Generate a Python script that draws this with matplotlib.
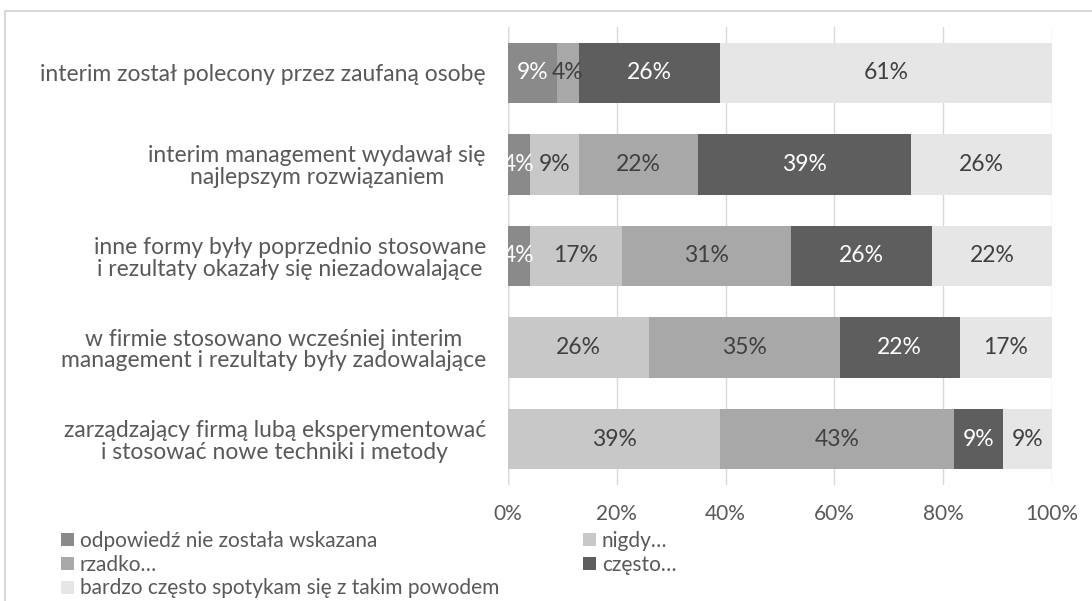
import matplotlib.pyplot as plt
from matplotlib.patches import Rectangle

plt.rcParams['font.family'] = ['Lato', 'DejaVu Sans']

# Categories (top to bottom) and series values in %
categories = [
    'interim został polecony przez zaufaną osobę',
    'interim management wydawał się\nnajlepszym rozwiązaniem',
    'inne formy były poprzednio stosowane\ni rezultaty okazały się niezadowalające',
    'w firmie stosowano wcześniej interim\nmanagement i rezultaty były zadowalające',
    'zarządzający firmą lubą eksperymentować\ni stosować nowe techniki i metody',
]
series_names = [
    'odpowiedź nie została wskazana',
    'nigdy…',
    'rzadko…',
    'często…',
    'bardzo często spotykam się z takim powodem',
]
odp = [9, 4, 4, 0, 0]
nigdy = [0, 9, 17, 26, 39]
rzadko = [4, 22, 31, 35, 43]
czesto = [26, 39, 26, 22, 9]
bardzo = [61, 26, 22, 17, 9]
values = [odp, nigdy, rzadko, czesto, bardzo]

colors = ['#8a8a8a', '#c8c8c8', '#a8a8a8', '#5e5e5e', '#e6e6e6']
label_colors = ['white', '#404040', '#404040', 'white', '#404040']
text_col = '#595959'

fig = plt.figure(figsize=(10.92, 6.01), dpi=100)
ax = fig.add_axes([508 / 1092, 1 - 485 / 601, 544 / 1092, 458 / 601])

# chart area frame (cropped on the right and bottom)
fig.patches.append(Rectangle((5 / 1092, -0.1), 1.2, 1.1 - 11 / 601,
                             transform=fig.transFigure, fill=False,
                             edgecolor='#d9d9d9', lw=1.5))

ypos = list(range(len(categories)))
left = [0] * len(categories)
handles = []
for vals, name, c, lc in zip(values, series_names, colors, label_colors):
    bars = ax.barh(ypos, vals, left=left, height=0.66, color=c, label=name,
                   zorder=2)
    handles.append(bars)
    for b, v in zip(bars, vals):
        if v > 0:
            ax.text(b.get_x() + b.get_width() / 2, b.get_y() + b.get_height() / 2,
                    f'{v}%', ha='center', va='center', color=lc, fontsize=16.5,
                    zorder=3)
    left = [l + v for l, v in zip(left, vals)]

ax.set_xlim(0, 100)
ax.set_ylim(len(categories) - 0.5, -0.5)
ax.set_xticks(range(0, 101, 20))
ax.set_xticklabels([f'{t}%' for t in range(0, 101, 20)], fontsize=15)
ax.set_yticks(ypos)
ax.set_yticklabels(categories, multialignment='center', fontsize=16.5,
                   linespacing=1.05)
ax.tick_params(axis='both', length=0, labelcolor=text_col)
ax.tick_params(axis='x', pad=14)
ax.tick_params(axis='y', pad=16)
ax.grid(axis='x', color='#d9d9d9', lw=1, zorder=0)
for s in ax.spines.values():
    s.set_visible(False)
ax.axvline(0, color='#bfbfbf', lw=1, zorder=1)

leg_kw = dict(loc='upper left', bbox_transform=fig.transFigure, frameon=False,
              fontsize=15, labelcolor=text_col, handlelength=0.6,
              handleheight=0.6, handletextpad=0.3, labelspacing=0.18,
              borderaxespad=0, borderpad=0)
leg1 = ax.legend([handles[i] for i in (0, 2, 4)],
                 [series_names[i] for i in (0, 2, 4)],
                 bbox_to_anchor=(61 / 1092, 1 - 531 / 601), **leg_kw)
ax.add_artist(leg1)
ax.legend([handles[i] for i in (1, 3)], [series_names[i] for i in (1, 3)],
          bbox_to_anchor=(583 / 1092, 1 - 531 / 601), **leg_kw)

fig.savefig('out.png', dpi=100)
